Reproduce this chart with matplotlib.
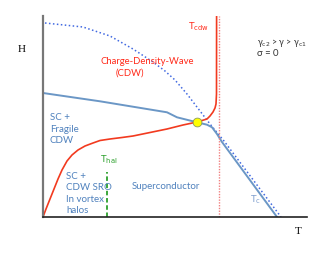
import matplotlib.pyplot as plt

# phase diagram, arbitrary units (T along x, H along y)
hc2_T = [2, 40, 67, 90, 110, 122, 132, 144, 157, 167, 181, 238]
hc2_H = [194, 190, 181, 168, 155, 146, 137, 123, 106, 93, 76, 0]

tc_T = [0, 57, 124, 134, 154, 164, 169, 174, 179, 234]
tc_H = [124, 115.7, 104.7, 99.7, 94.7, 92.3, 89.7, 83, 75, 0]

cdw_T = [0, 3, 7, 11, 15, 19, 24, 29, 35, 42, 50, 57, 67, 79, 90, 107, 124, 140, 154,
         159, 164, 167, 170, 172, 173, 173.5, 173.6]
cdw_H = [0, 8, 18, 28, 38, 47, 56, 62, 67, 71, 74, 76.5, 78, 79.5, 81, 84.5, 88, 92, 95,
         96.5, 98, 101, 105, 109, 113, 123, 201]

tcdw_T = 175.5
thal_T, thal_H = 64, 45
cross_T, cross_H = 154, 95

RED = '#f23a1f'
RED_TEXT = '#ff2a1a'
BLUE_LINE = '#6b97c6'
BLUE_TEXT = '#4f81bd'
FONT = ['Lato', 'DejaVu Sans']

fig = plt.figure(figsize=(3.3, 2.55), dpi=100)
ax = fig.add_axes([43 / 330, 37 / 255, 264 / 330, 201 / 255])
ax.set_xlim(0, 264)
ax.set_ylim(0, 201)
ax.set_xticks([])
ax.set_yticks([])
for s in ['top', 'right']:
    ax.spines[s].set_visible(False)
ax.spines['left'].set_color('#777777')
ax.spines['left'].set_linewidth(1.6)
ax.spines['bottom'].set_color('#222222')
ax.spines['bottom'].set_linewidth(1.2)

ax.plot(hc2_T, hc2_H, color='#4169e1', linestyle=(0, (1, 1.6)), linewidth=1.1)
ax.plot(tc_T, tc_H, color=BLUE_LINE, linewidth=1.4)
ax.plot(cdw_T, cdw_H, color=RED, linewidth=1.2)
ax.plot([tcdw_T, tcdw_T], [0, 201], color='#f08080', linestyle=(0, (1, 1)), linewidth=1.0)
ax.plot([thal_T, thal_T], [0, thal_H], color='#2ca02c', linestyle=(0, (2.5, 1.5)), linewidth=1.3)
ax.scatter([cross_T], [cross_H], s=40, color='#ffff00', edgecolor='#8a9a5b', linewidth=0.6, zorder=5)

kw = dict(fontfamily=FONT, fontsize=7)
ax.text(104, 157, 'Charge-Density-Wave', color=RED_TEXT, ha='center', va='center', fontfamily=FONT, fontsize=6.8)
ax.text(87, 145, '(CDW)', color=RED_TEXT, ha='center', va='center', fontfamily=FONT, fontsize=6.8)
ax.text(145, 191, r'T$_{\rm cdw}$', color=RED_TEXT, ha='left', va='center', **kw)
ax.text(214, 175, 'γ$_{\\rm c2}$ > γ > γ$_{\\rm c1}$', color='#333333', ha='left', va='center',
        fontfamily=FONT, fontsize=6.3)
ax.text(214, 165, 'σ = 0', color='#333333', ha='left', va='center', fontfamily=FONT, fontsize=6.8)
ax.text(7, 89, 'SC +\nFragile\nCDW', color=BLUE_TEXT, ha='left', va='center', linespacing=1.35, **kw)
ax.text(23, 24.5, 'SC +\nCDW SRO\nIn vortex\nhalos', color=BLUE_TEXT, ha='left', va='center', linespacing=1.35, **kw)
ax.text(89, 31, 'Superconductor', color=BLUE_TEXT, ha='left', va='center', **kw)
ax.text(57, 58, r'T$_{\rm hal}$', color='#2ca02c', ha='left', va='center', **kw)
ax.text(207, 18, r'T$_{\rm c}$', color='#7f9fcf', ha='left', va='center', **kw)

ax.text(-21, 168, 'H', fontfamily='Liberation Serif', fontsize=8, ha='center', va='center', clip_on=False)
ax.text(255, -14, 'T', fontfamily='Liberation Serif', fontsize=8, ha='center', va='center', clip_on=False)

fig.savefig('out.png', dpi=100)
